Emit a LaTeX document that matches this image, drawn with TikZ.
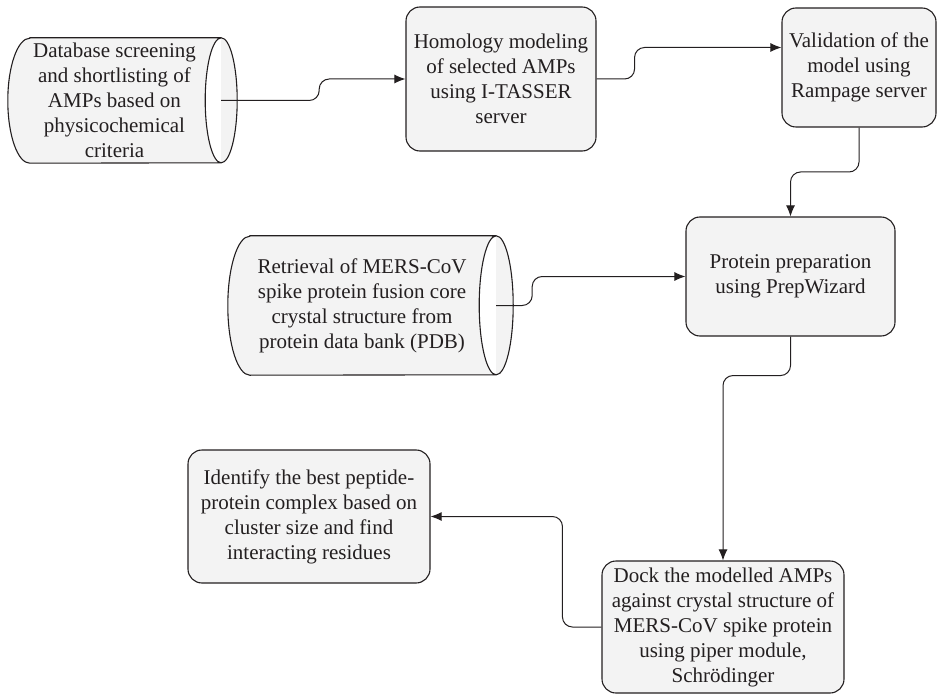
\documentclass[tikz,border=0pt]{standalone}
\usepackage{fontspec}
\setmainfont{Liberation Serif}
\usetikzlibrary{arrows.meta,calc}
\pgfdeclarelayer{background}
\pgfsetlayers{background,main}
\definecolor{boxfill}{RGB}{243,243,243}
\definecolor{ink}{RGB}{35,31,32}

% cylinder outline behind a node: node, back rx, front rx, ry
\newcommand{\cylout}[4]{%
  \begin{pgfonlayer}{background}
    \draw[draw=ink, line width=1.1pt, fill=boxfill]
      ([xshift=#2pt]#1.north west) -- (#1.north east)
      arc[start angle=90, end angle=-90, x radius=#3pt, y radius=#4pt]
      -- ([xshift=#2pt]#1.south west)
      arc[start angle=270, end angle=90, x radius=#2pt, y radius=#4pt] -- cycle
      (#1.north east) arc[start angle=90, end angle=270, x radius=#3pt, y radius=#4pt];
  \end{pgfonlayer}}

\begin{document}
\begin{tikzpicture}[x=1pt,y=-1pt,
    box/.style={draw=ink, line width=1.1pt, fill=boxfill, rounded corners=14pt,
      align=center, inner sep=0pt, text=ink, font=\fontsize{21}{25}\selectfont},
    cyltext/.style={align=center, inner sep=0pt, text=ink, font=\fontsize{21}{25}\selectfont},
    flow/.style={draw=ink, line width=1pt, rounded corners=10pt, -{Latex[length=11pt,width=9pt]}}]

    \useasboundingbox (0,0) rectangle (937,695);

    % steps
    \node[cyltext, minimum width=213pt, minimum height=125pt] (db) at (114.5,100.5)
        {Database screening\\and shortlisting of\\AMPs based on\\physicochemical\\criteria};
    \cylout{db}{22}{16}{62.5}

    \node[box, minimum width=190pt, minimum height=144pt] (hom) at (501,79)
        {Homology modeling\\of selected AMPs\\using I-TASSER\\server};
    \node[box, minimum width=154pt, minimum height=119pt] (val) at (859,67.5)
        {Validation of the\\model using\\Rampage server};
    \node[box, minimum width=209pt, minimum height=119pt] (prep) at (790.5,276.5)
        {Protein preparation\\using PrepWizard};

    \node[cyltext, minimum width=268pt, minimum height=139pt] (pdb) at (362,305.5)
        {Retrieval of MERS-CoV\\spike protein fusion core\\crystal structure from\\protein data bank (PDB)};
    \cylout{pdb}{22}{17}{69.5}

    \node[box, minimum width=242pt, minimum height=133pt] (ident) at (309,516.5)
        {Identify the best peptide-\\protein complex based on\\cluster size and find\\interacting residues};
    \node[box, minimum width=242pt, minimum height=132pt] (dock) at (723,627)
        {Dock the modelled AMPs\\against crystal structure of\\MERS-CoV spike protein\\using piper module,\\Schrödinger};

    % arrows
    \draw[flow] (db.east) -- ++(98,0) |- (hom.west);
    \draw[flow] (hom.east) -- ++(38,0) |- ([yshift=20pt]val.west);
    \draw[flow] (val.south) |- ($(val.south)!0.5!(prep.north)$) -| (prep.north);
    \draw[flow] (pdb.east) -- ++(36,0) |- (prep.west);
    \draw[flow] (prep.south) -- ++(0,39) -| (dock.north);
    \draw[flow] (dock.west) -- ++(-39,0) |- (ident.east);
\end{tikzpicture}
\end{document}
